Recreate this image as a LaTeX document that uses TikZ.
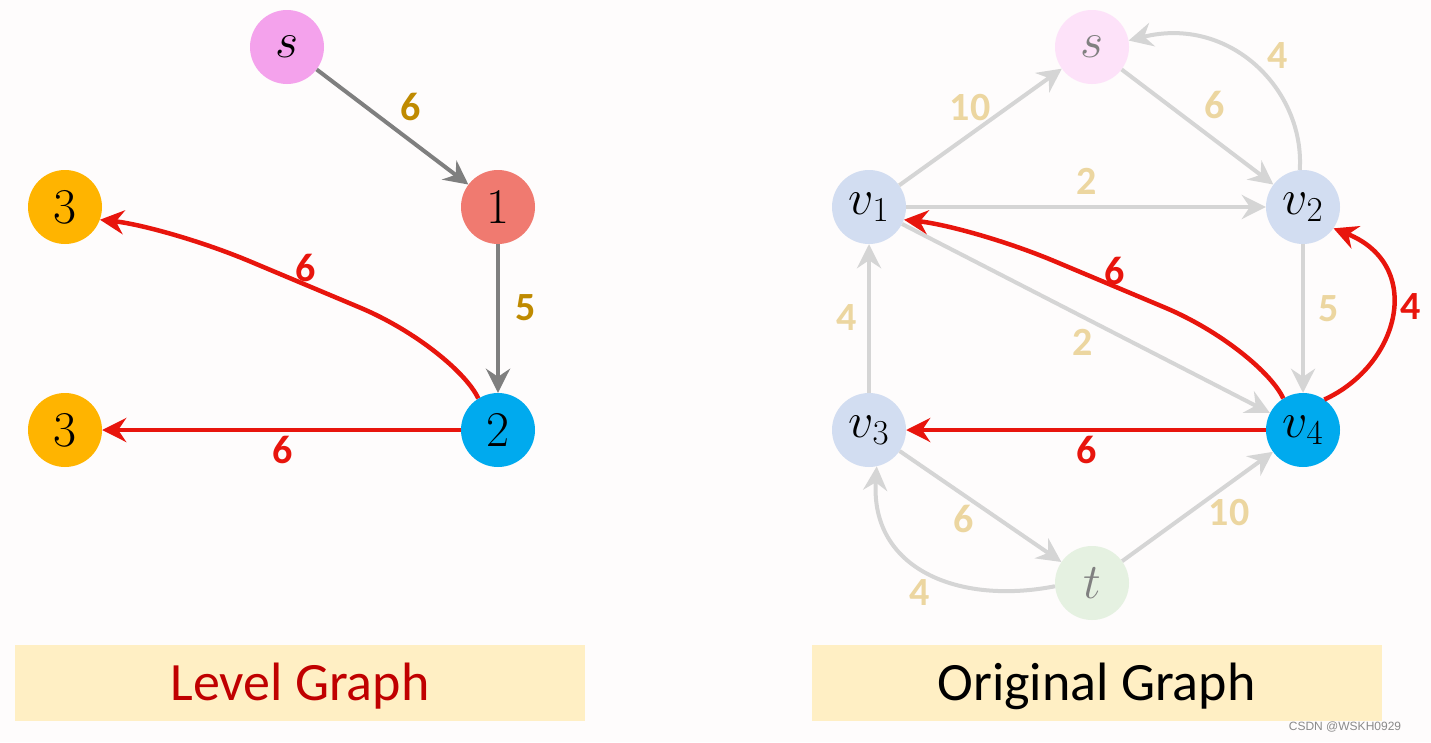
\RequirePackage{fix-cm}
\documentclass[tikz,border=0pt]{standalone}
\usepackage{fontspec}
\newfontfamily\carlito{Carlito}
\newfontfamily\wmfont{Liberation Sans}
\usetikzlibrary{arrows.meta}
\definecolor{bgc}{HTML}{FEFCFC}
\definecolor{spink}{HTML}{F4A2EC}
\definecolor{salmonc}{HTML}{F07A70}
\definecolor{cyanb}{HTML}{00AAEE}
\definecolor{orangey}{HTML}{FFB400}
\definecolor{lspink}{HTML}{FDE2F9}
\definecolor{lgreen}{HTML}{E5F1E1}
\definecolor{lblue}{HTML}{D2DDF1}
\definecolor{edgegray}{HTML}{7F7F7F}
\definecolor{ledgegray}{HTML}{D5D5D5}
\definecolor{goldc}{HTML}{BF8A00}
\definecolor{lgold}{HTML}{ECD6A0}
\definecolor{redc}{HTML}{E8150D}
\definecolor{titlered}{HTML}{C00000}
\definecolor{boxc}{HTML}{FFEFC4}
\definecolor{wmgray}{HTML}{8A8A8A}
\tikzset{
  vert/.style={circle, minimum size=74pt, inner sep=0pt, font=\fontsize{50}{56}\selectfont},
  tip/.style={-{Stealth[length=24pt,width=24pt,inset=8pt]}},
  darkedge/.style={draw=edgegray, line width=4pt, tip},
  lightedge/.style={draw=ledgegray, line width=4pt, tip},
  rededge/.style={draw=redc, line width=4.5pt, tip},
  lbl/.style={inner sep=0pt, font=\carlito\bfseries\fontsize{40}{44}\selectfont},
  goldlbl/.style={lbl, text=goldc},
  lgoldlbl/.style={lbl, text=lgold},
  redlbl/.style={lbl, text=redc},
  titlebox/.style={fill=boxc, minimum width=570pt, minimum height=76pt, inner sep=0pt,
    text height=35pt, text depth=0pt, font=\carlito\fontsize{54}{62}\selectfont}
}
\begin{document}
\begin{tikzpicture}[x=1pt,y=1pt]
\path[use as bounding box, fill=bgc] (0,0) rectangle (1431,-742);

% ---------- Level graph ----------
\node[vert, fill=spink] (Ls) at (287,-47) {$s$};
\node[vert, fill=salmonc] (L1) at (498,-207) {1};
\node[vert, fill=orangey] (L3a) at (65,-207) {3};
\node[vert, fill=orangey] (L3b) at (65,-430) {3};
\node[vert, fill=cyanb] (L2) at (498,-430) {2};

\draw[darkedge] (Ls) -- (L1);
\draw[darkedge] (L1) -- (L2);
\draw[rededge] (L2.122) .. controls (466,-372) and (415,-330.7) .. (360,-307.6)
  -- (250,-261.4) .. controls (200,-240.4) and (140,-224) .. (L3a.-20);
\draw[rededge] (L2) -- (L3b);

\node[goldlbl] (la) at (411,-107) {6};
\node[goldlbl] (lb) at (526,-308) {5};
\node[redlbl] (lc) at (306,-268) {6};
\node[redlbl] (ld) at (283,-450) {6};

% ---------- Original graph ----------
\node[vert, fill=lspink, text=gray] (Rs) at (1092,-47) {$s$};
\node[vert, fill=lblue] (Rv1) at (869,-207) {$v_1$};
\node[vert, fill=lblue] (Rv2) at (1303,-207) {$v_2$};
\node[vert, fill=lblue] (Rv3) at (869,-430) {$v_3$};
\node[vert, fill=cyanb] (Rv4) at (1303,-430) {$v_4$};
\node[vert, fill=lgreen, text=gray] (Rt) at (1092,-583) {$t$};

\draw[lightedge] (Rv1) -- (Rs);
\draw[lightedge] (Rs) -- (Rv2);
\draw[lightedge] (Rv2.95) .. controls (1305,-90) and (1230,-15) .. (Rs.10);
\draw[lightedge] (Rv1) -- (Rv2);
\draw[lightedge] (Rv1) -- (Rv4);
\draw[lightedge] (Rv2) -- (Rv4);
\draw[lightedge] (Rv3) -- (Rv1);
\draw[lightedge] (Rv3) -- (Rt);
\draw[lightedge] (Rt) -- (Rv4);
\draw[lightedge] (Rt.185) .. controls (960,-605) and (870,-570) .. (Rv3.-78);

\draw[rededge] (Rv4.122) .. controls (1271,-372) and (1220,-330.7) .. (1165,-307.6)
  -- (1055,-261.4) .. controls (1005,-240.4) and (945,-224) .. (Rv1.-20);
\draw[rededge] (Rv4.55) .. controls (1400,-365) and (1425,-265) .. (Rv2.-35);
\draw[rededge] (Rv4) -- (Rv3);

\node[lgoldlbl] (ra) at (970,-108) {10};
\node[lgoldlbl] (rb) at (1215,-105) {6};
\node[lgoldlbl] (rc) at (1278,-56) {4};
\node[lgoldlbl] (rd) at (1087,-181) {2};
\node[redlbl] (re) at (1115,-271) {6};
\node[redlbl] (rf) at (1411,-307) {4};
\node[lgoldlbl] (rg) at (847,-318) {4};
\node[lgoldlbl] (rh) at (1083,-342) {2};
\node[lgoldlbl] (ri) at (1329,-309) {5};
\node[redlbl] (rj) at (1087,-450) {6};
\node[lgoldlbl] (rk) at (964,-519) {6};
\node[lgoldlbl] (rl) at (1229,-513) {10};
\node[lgoldlbl] (rm) at (920,-593) {4};

% ---------- captions ----------
\node[titlebox, text=titlered] (LT) at (300,-683) {Level Graph};
\node[titlebox, text=black] (RT) at (1096.5,-683) {Original Graph};
\node[inner sep=0pt, text=wmgray, font=\wmfont\fontsize{12}{14}\selectfont] (wm) at (1345,-727) {CSDN @WSKH0929};
\end{tikzpicture}
\end{document}
